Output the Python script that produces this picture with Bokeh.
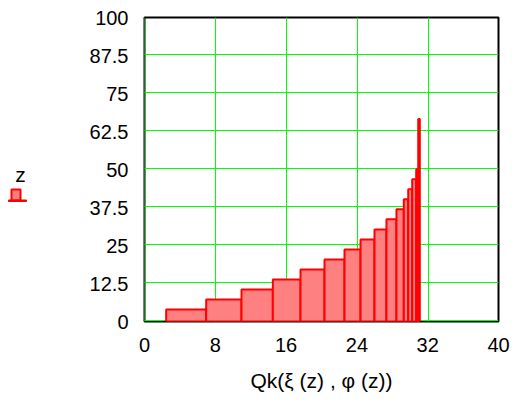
from bokeh.plotting import figure
from bokeh.layouts import row
from bokeh.models import (FixedTicker, Range1d, Label, BoxAnnotation,
                          ColumnDataSource, LinearAxis, Grid)
from bokeh.embed import file_html
from bokeh.resources import INLINE

# Data (step bars: each bar spans qk[i]..qk[i+1] with height z[i])
qk = [2.45, 6.97, 10.96, 14.50, 17.63, 20.34, 22.60, 24.41, 25.99, 27.34,
      28.47, 29.30, 29.80, 30.25, 30.70, 30.93, 31.11]
z = [3.95, 7.2, 10.5, 13.8, 17.1, 20.4, 23.7, 27.0, 30.3, 33.6,
     36.9, 40.2, 43.5, 46.8, 50.1, 66.6]

x_ticks = [0, 8, 16, 24, 32, 40]
y_ticks = [0, 12.5, 25, 37.5, 50, 62.5, 75, 87.5, 100]
y_tick_labels = ["0", "12.5", "25", "37.5", "50", "62.5", "75", "87.5", "100"]
x_label = "Qk(\u03be (z) , \u03c6 (z))"
legend_label = "z"

FONT = "Liberation Sans"
GREEN = "#00ff00"

# ---------------- main plot ----------------
p = figure(width=476, height=406, output_backend="svg", toolbar_location=None,
           x_range=Range1d(0, 40), y_range=Range1d(0, 100),
           x_axis_location=None, y_axis_location=None,
           min_border_left=104, min_border_right=18, min_border_top=17, min_border_bottom=85)
p.background_fill_color = "white"
p.border_fill_color = "white"
p.outline_line_color = "black"
p.outline_line_width = 2
p.xgrid.visible = False
p.ygrid.visible = False

# grid ranges nudged by a fraction of a pixel so the 1px grid lines fall on whole pixels
p.extra_x_ranges = {"grid": Range1d(0.0563, 39.943)}
p.extra_y_ranges = {"grid": Range1d(-0.1645, 99.8355)}
p.add_layout(Grid(dimension=0, ticker=FixedTicker(ticks=x_ticks), x_range_name="grid",
                  grid_line_color=GREEN, grid_line_width=1, grid_line_alpha=1), "center")
p.add_layout(Grid(dimension=1, ticker=FixedTicker(ticks=y_ticks), y_range_name="grid",
                  grid_line_color=GREEN, grid_line_width=1, grid_line_alpha=1), "center")

src = ColumnDataSource(dict(left=qk[:-1], right=qk[1:], top=z, bottom=[0] * len(z)))
p.quad(left="left", right="right", top="top", bottom="bottom", source=src,
       fill_color="#ff8080", line_color="#ff0000", line_width=2)

xa = LinearAxis(ticker=FixedTicker(ticks=x_ticks))
ya = LinearAxis(ticker=FixedTicker(ticks=y_ticks))
for ax in (xa, ya):
    ax.axis_line_color = None
    ax.major_tick_line_color = None
    ax.minor_tick_line_color = None
    ax.major_label_text_font = FONT
    ax.major_label_text_font_size = "20px"
    ax.major_label_text_color = "black"
ya.major_label_overrides = {t: l for t, l in zip(y_ticks, y_tick_labels)}
xa.major_label_standoff = 10
ya.major_label_standoff = 10
xa.axis_label = x_label
xa.axis_label_text_font = FONT
xa.axis_label_text_font_size = "21px"
xa.axis_label_text_font_style = "normal"
xa.axis_label_text_color = "black"
xa.axis_label_standoff = 14
p.add_layout(xa, "below")
p.add_layout(ya, "left")

# ---------------- legend strip (y range in page pixels, frame aligned with main frame) ----------------
lg = figure(width=40, height=406, output_backend="svg", toolbar_location=None,
            x_range=Range1d(0, 40), y_range=Range1d(321, 17),
            x_axis_location=None, y_axis_location=None,
            min_border_left=0, min_border_right=0, min_border_top=17, min_border_bottom=85)
lg.outline_line_color = None
lg.background_fill_color = "white"
lg.border_fill_color = "white"
lg.xgrid.visible = False
lg.ygrid.visible = False
lg.add_layout(Label(x=20, y=174, text=legend_label, text_font=FONT, text_font_size="21px",
                    text_align="center", text_baseline="middle", text_color="black"))
lg.add_layout(BoxAnnotation(left=11, right=20, top=189, bottom=200,
                            fill_color="#ff8080", fill_alpha=1, line_color="#ff0000",
                            line_width=2, line_alpha=1))
lg.add_layout(BoxAnnotation(left=8, right=26, top=199.5, bottom=201,
                            fill_color="#ff0000", fill_alpha=1, line_color="#ff0000",
                            line_width=1, line_alpha=1))

layout = row(lg, p, spacing=0)
open("out.html", "w").write(file_html(layout, INLINE))
